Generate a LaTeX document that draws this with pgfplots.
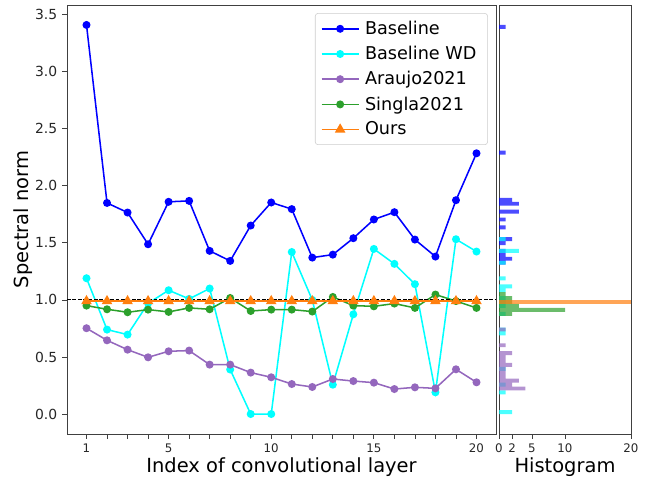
\documentclass[border=0pt]{standalone}
\usepackage{fontspec}
\setmainfont{DejaVu Sans}
\usepackage{pgfplots}
\pgfplotsset{compat=1.18}
\definecolor{cblue}{HTML}{0000FF}
\definecolor{ccyan}{HTML}{00FFFF}
\definecolor{cpurple}{HTML}{9467BD}
\definecolor{cgreen}{HTML}{2CA02C}
\definecolor{corange}{HTML}{FF7F0E}
\begin{document}
\begin{tikzpicture}
\pgfplotsset{
  common/.style={
    scale only axis, height=308.88pt,
    ymin=-0.175, ymax=3.585,
    axis line style={black!75, line width=0.6pt},
    tick align=outside, major tick length=3.5pt,
    every tick/.style={black!75, line width=0.6pt},
    /pgf/number format/assume math mode=true,
    xticklabel style={font=\fontsize{8.5}{10}\selectfont, text=black!85},
    yticklabel style={font=\fontsize{10}{12}\selectfont, text=black!85},
    tick pos=left,
  },
  line/.style={line width=1.1pt, mark size=2.3pt},
}
\begin{axis}[common, at={(0pt,0pt)}, anchor=south west, width=308.88pt,
  xmin=0.05, xmax=20.95,
  xtick={1,2,...,20}, xticklabels={1,,,,5,,,,,10,,,,,15,,,,,20},
  ytick={0,0.5,1,1.5,2,2.5,3,3.5},
  yticklabel style={/pgf/number format/.cd, fixed, fixed zerofill, precision=1},
  xlabel={Index of convolutional layer},
  ylabel={Spectral norm},
  xlabel style={font=\fontsize{14}{16}\selectfont, at={(axis description cs:0.5,0)}, anchor=base, yshift=-27.4pt},
  ylabel style={font=\fontsize{14}{16}\selectfont, at={(axis description cs:-0.1026,0.5)}, anchor=center},
  legend style={at={(0.981,0.981)}, anchor=north east, draw=black!20, rounded corners=2pt,
    fill=white, font=\fontsize{12.7}{15}\selectfont, row sep=3pt, inner xsep=4pt, inner ysep=3.5pt,
    nodes={inner xsep=4pt}},
  legend cell align=left,
  legend image code/.code={\draw[line width=1.1pt, mark repeat=2, mark phase=2] plot coordinates {(0cm,0cm) (0.47cm,0cm) (0.94cm,0cm)};},
]
\addplot[cblue, line, mark=*] coordinates {
(1,3.41) (2,1.85) (3,1.766) (4,1.488) (5,1.86) (6,1.868) (7,1.43) (8,1.342) (9,1.652) (10,1.854)
(11,1.796) (12,1.371) (13,1.397) (14,1.541) (15,1.705) (16,1.769) (17,1.529) (18,1.380) (19,1.874) (20,2.285)};
\addlegendentry{Baseline}
\addplot[ccyan, line, mark=*] coordinates {
(1,1.19) (2,0.74) (3,0.696) (4,0.97) (5,1.085) (6,1.009) (7,1.10) (8,0.39) (9,0.0) (10,0.0)
(11,1.42) (12,1.0) (13,0.257) (14,0.874) (15,1.447) (16,1.316) (17,1.138) (18,0.19) (19,1.532) (20,1.424)};
\addlegendentry{Baseline WD}
\addplot[cpurple, line, mark=*] coordinates {
(1,0.752) (2,0.646) (3,0.564) (4,0.497) (5,0.55) (6,0.556) (7,0.433) (8,0.433) (9,0.363) (10,0.322)
(11,0.263) (12,0.237) (13,0.307) (14,0.289) (15,0.275) (16,0.219) (17,0.234) (18,0.225) (19,0.392) (20,0.278)};
\addlegendentry{Araujo2021}
\addplot[cgreen, line, mark=*] coordinates {
(1,0.95) (2,0.918) (3,0.892) (4,0.915) (5,0.895) (6,0.93) (7,0.918) (8,1.017) (9,0.903) (10,0.915)
(11,0.915) (12,0.898) (13,1.026) (14,0.95) (15,0.944) (16,0.968) (17,0.93) (18,1.047) (19,0.99) (20,0.93)};
\addlegendentry{Singla2021}
\addplot[corange, line, mark=triangle*, mark size=3.3pt] coordinates {
(1,0.99) (2,0.99) (3,0.99) (4,0.99) (5,0.99) (6,0.99) (7,0.99) (8,0.99) (9,0.99) (10,0.99)
(11,0.99) (12,0.99) (13,0.99) (14,0.99) (15,0.99) (16,0.99) (17,0.99) (18,0.99) (19,0.99) (20,0.99)};
\addlegendentry{Ours}
\addplot[black, dashed, line width=0.75pt, dash pattern=on 2.7pt off 1.2pt, forget plot] coordinates {(0.05,1) (20.95,1)};
\end{axis}
\begin{axis}[common, at={(311.04pt,0pt)}, anchor=south west, width=95.04pt,
  xmin=0, xmax=20, xtick={0,2,5,10,20}, ytick=\empty,
  xlabel={Histogram},
  xlabel style={font=\fontsize{14}{16}\selectfont, at={(axis description cs:0.5,0)}, anchor=base, yshift=-27.4pt},
]
\pgfplotsset{hb/.style={xbar, bar width=0.03444, bar shift=0pt, draw=none, fill opacity=0.7}}
\addplot[hb, fill=cblue] coordinates {
(1,3.3928) (1,2.2906) (2,1.8772) (3,1.8428) (3,1.7739) (1,1.7050) (1,1.6361) (2,1.5328) (1,1.4983)
(1,1.4294) (1,1.3950) (2,1.3606) (1,1.3261)};
\addplot[hb, fill=ccyan] coordinates {
(1,1.5328) (3,1.4294) (1,1.3261) (1,1.1883) (2,1.1194) (1,1.0850) (1,1.0161) (1,0.9817) (1,0.9472)
(1,0.8783) (1,0.7406) (1,0.7061) (1,0.3961) (1,0.2583) (1,0.1894) (2,0.0172)};
\addplot[hb, fill=cpurple] coordinates {
(1,0.7406) (1,0.6028) (2,0.5339) (1,0.4994) (1,0.4650) (2,0.4306) (1,0.3961) (1,0.3617) (1,0.3272)
(3,0.2928) (2,0.2583) (4,0.2239)};
\addplot[hb, fill=cgreen] coordinates {
(1,1.0506) (2,1.0161) (2,0.9817) (3,0.9472) (10,0.9128) (2,0.8783)};
\addplot[hb, fill=corange] coordinates {(20,0.9817)};
\end{axis}
\pgfresetboundingbox
\path (-48.24pt,-35.28pt) rectangle (421.2pt,312.48pt);
\end{tikzpicture}
\end{document}
